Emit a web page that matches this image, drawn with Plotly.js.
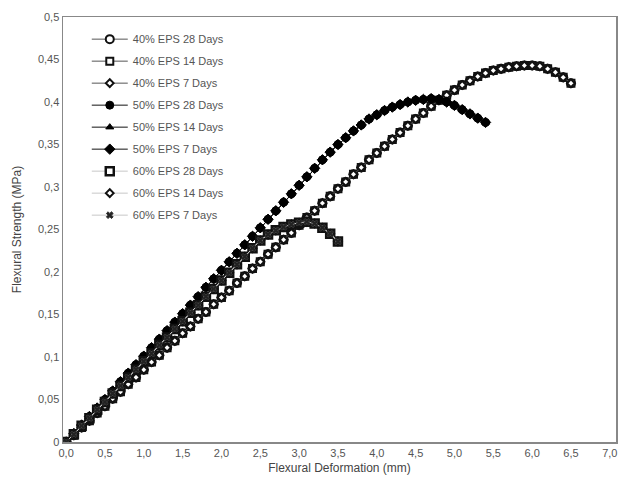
<!DOCTYPE html>
<html>
<head>
<meta charset="utf-8">
<script src="https://cdn.plot.ly/plotly-3.0.1.min.js"></script>
<style>html,body{margin:0;padding:0;background:#fff;}#chart{width:622px;height:491px;}</style>
</head>
<body>
<div id="chart"></div>
<script>
// 40% EPS (all curing ages overlap)
const x40 = [0,0.1,0.2,0.3,0.4,0.5,0.6,0.7,0.8,0.9,1.0,1.1,1.2,1.3,1.4,1.5,1.6,1.7,1.8,1.9,2.0,2.1,2.2,2.3,2.4,2.5,2.6,2.7,2.8,2.9,3.0,3.1,3.2,3.3,3.4,3.5,3.6,3.7,3.8,3.9,4.0,4.1,4.2,4.3,4.4,4.5,4.6,4.7,4.8,4.9,5.0,5.1,5.2,5.3,5.4,5.5,5.6,5.7,5.8,5.9,6.0,6.1,6.2,6.3,6.4,6.5];
const y40 = [0,0.008,0.017,0.025,0.034,0.042,0.051,0.059,0.068,0.076,0.085,0.094,0.102,0.111,0.119,0.128,0.136,0.145,0.153,0.162,0.170,0.178,0.187,0.195,0.204,0.212,0.221,0.229,0.238,0.246,0.255,0.264,0.272,0.281,0.289,0.298,0.306,0.315,0.323,0.332,0.340,0.348,0.356,0.364,0.372,0.380,0.387,0.395,0.402,0.408,0.414,0.420,0.425,0.430,0.434,0.437,0.439,0.441,0.442,0.443,0.443,0.442,0.439,0.435,0.429,0.422];
// 50% EPS
const x50 = [0,0.1,0.2,0.3,0.4,0.5,0.6,0.7,0.8,0.9,1.0,1.1,1.2,1.3,1.4,1.5,1.6,1.7,1.8,1.9,2.0,2.1,2.2,2.3,2.4,2.5,2.6,2.7,2.8,2.9,3.0,3.1,3.2,3.3,3.4,3.5,3.6,3.7,3.8,3.9,4.0,4.1,4.2,4.3,4.4,4.5,4.6,4.7,4.8,4.9,5.0,5.1,5.2,5.3,5.4];
const y50 = [0,0.010,0.020,0.030,0.040,0.050,0.060,0.071,0.081,0.091,0.101,0.111,0.121,0.131,0.141,0.151,0.161,0.171,0.182,0.192,0.202,0.212,0.222,0.232,0.242,0.252,0.262,0.272,0.282,0.292,0.302,0.312,0.322,0.332,0.341,0.350,0.358,0.366,0.373,0.380,0.385,0.390,0.394,0.397,0.400,0.402,0.403,0.404,0.403,0.400,0.396,0.391,0.386,0.381,0.376];
// 60% EPS
const x60 = [0,0.1,0.2,0.3,0.4,0.5,0.6,0.7,0.8,0.9,1.0,1.1,1.2,1.3,1.4,1.5,1.6,1.7,1.8,1.9,2.0,2.1,2.2,2.3,2.4,2.5,2.6,2.7,2.8,2.9,3.0,3.1,3.2,3.3,3.4,3.5];
const y60 = [0,0.009,0.019,0.028,0.038,0.047,0.057,0.066,0.076,0.085,0.095,0.104,0.114,0.123,0.133,0.142,0.152,0.161,0.171,0.180,0.190,0.199,0.209,0.218,0.228,0.237,0.244,0.249,0.253,0.256,0.258,0.259,0.257,0.252,0.245,0.236];

const seriesNames = ["40% EPS 28 Days","40% EPS 14 Days","40% EPS 7 Days","50% EPS 28 Days","50% EPS 14 Days","50% EPS 7 Days","60% EPS 28 Days","60% EPS 14 Days","60% EPS 7 Days"];
const seriesX = [x40,x40,x40,x50,x50,x50,x60,x60,x60];
const seriesY = [y40,y40,y40,y50,y50,y50,y60,y60,y60];
const symbols = ["circle","square","diamond","circle","triangle-up","diamond","square","diamond","x"];
const fills = ["#ffffff","#ffffff","#ffffff","#000000","#000000","#000000","#ffffff","#ffffff","#222222"];
const msizes = [8,7,6,8,7,8,8,6,6];
const mlines = [2,2,2,1,1,1,2.5,2,1];
const mlineColors = ["#111","#111","#111","#000","#000","#000","#111","#111","#333"];
const lineColors = ["#555555","#555555","#555555","#111111","#111111","#111111","#c8c8c8","#c8c8c8","#c8c8c8"];

const traces = seriesNames.map((n,i)=>({
  type:"scatter", mode:"lines+markers", name:n,
  x:seriesX[i], y:seriesY[i],
  legendgroup:"g"+i,
  line:{color:lineColors[i], width:1},
  marker:{symbol:symbols[i], size:msizes[i], color:fills[i], line:{color:mlineColors[i], width:mlines[i]}}
}));

const layout = {
  width:622, height:491,
  margin:{l:63, r:6, t:17, b:49},
  paper_bgcolor:"#fff", plot_bgcolor:"#fff",
  separators:",.",
  font:{family:"Liberation Sans, Arial, sans-serif", color:"#555", size:11},
  showlegend:true,
  legend:{x:0.043, y:0.982, xanchor:"left", yanchor:"top", bgcolor:"rgba(0,0,0,0)",
          font:{size:11, color:"#555"}, traceorder:"grouped", tracegroupgap:3, itemwidth:36},
  xaxis:{range:[-0.04,7.08], tickvals:[0,0.5,1,1.5,2,2.5,3,3.5,4,4.5,5,5.5,6,6.5,7],
         tickformat:".1f", showgrid:false, zeroline:false,
         showline:true, linecolor:"#888", linewidth:1.5, mirror:true, ticks:"",
         ticklabeloverflow:"allow",
         tickfont:{size:11, color:"#555"},
         title:{text:"Flexural Deformation (mm)", font:{size:12, color:"#444"}, standoff:6}},
  yaxis:{range:[0,0.5], dtick:0.05, tick0:0, showgrid:false, zeroline:false,
         showline:true, linecolor:"#888", linewidth:1.5, mirror:true, ticks:"",
         tickfont:{size:11, color:"#555"},
         title:{text:"Flexural Strength (MPa)", font:{size:12, color:"#444"}, standoff:13}}
};
Plotly.newPlot("chart", traces, layout, {staticPlot:true, displayModeBar:false});
</script>
</body>
</html>
